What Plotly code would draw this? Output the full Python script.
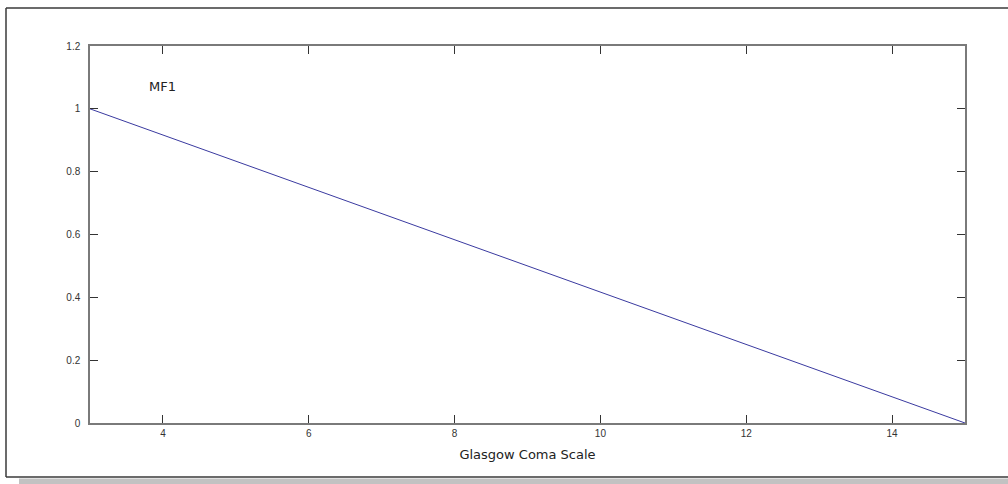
import plotly.graph_objects as go

gcs = [3, 15]
mf1 = [1, 0]
x_ticks = [4, 6, 8, 10, 12, 14]
y_ticks = [0, 0.2, 0.4, 0.6, 0.8, 1, 1.2]
y_tick_labels = ["0", "0.2", "0.4", "0.6", "0.8", "1", "1.2"]

L, R, T, B = 90, 43, 46, 61
W, H = 1008, 484
pw, ph = W - L - R, H - T - B


def px(x):
    return (x - L) / pw


def py(y):
    return (H - B - y) / ph


fig = go.Figure()
fig.add_trace(go.Scatter(x=gcs, y=mf1, mode="lines",
                         line=dict(color="#3a3aa0", width=1), showlegend=False,
                         hoverinfo="skip"))

axis_common = dict(showgrid=False, zeroline=False, showline=True, linecolor="#7a7a7a",
                   linewidth=1.5, mirror="ticks", ticks="inside", ticklen=8,
                   tickcolor="#333333", tickwidth=1,
                   tickfont=dict(family="Liberation Sans, Arial", size=10, color="#333333"))

fig.update_xaxes(range=[3, 15], tickvals=x_ticks, ticktext=[str(v) for v in x_ticks],
                 title=dict(text="Glasgow Coma Scale", standoff=12,
                            font=dict(family="DejaVu Sans", size=13, color="#222222")),
                 **axis_common)
fig.update_yaxes(range=[0, 1.2], tickvals=y_ticks, ticktext=y_tick_labels,
                 ticklabelstandoff=6, **axis_common)

fig.add_annotation(x=4.0, y=1.07, text="MF1", showarrow=False,
                   font=dict(family="DejaVu Sans", size=13, color="#222222"))

# outer figure frame and shadow
fig.add_shape(type="line", xref="paper", yref="paper", x0=px(6), x1=px(1010),
              y0=py(8), y1=py(8), line=dict(color="#3a3a3a", width=1.5))
fig.add_shape(type="line", xref="paper", yref="paper", x0=px(6), x1=px(6),
              y0=py(8), y1=py(477), line=dict(color="#3a3a3a", width=1.5))
fig.add_shape(type="line", xref="paper", yref="paper", x0=px(6), x1=px(1010),
              y0=py(477), y1=py(477), line=dict(color="#3a3a3a", width=1.5))
fig.add_shape(type="rect", xref="paper", yref="paper", x0=px(19), x1=px(1010),
              y0=py(478.5), y1=py(486), line=dict(width=0), fillcolor="#c2c2c2")

fig.update_layout(width=W, height=H, margin=dict(l=L, r=R, t=T, b=B),
                  plot_bgcolor="white", paper_bgcolor="white")

fig.write_html("out.html")
